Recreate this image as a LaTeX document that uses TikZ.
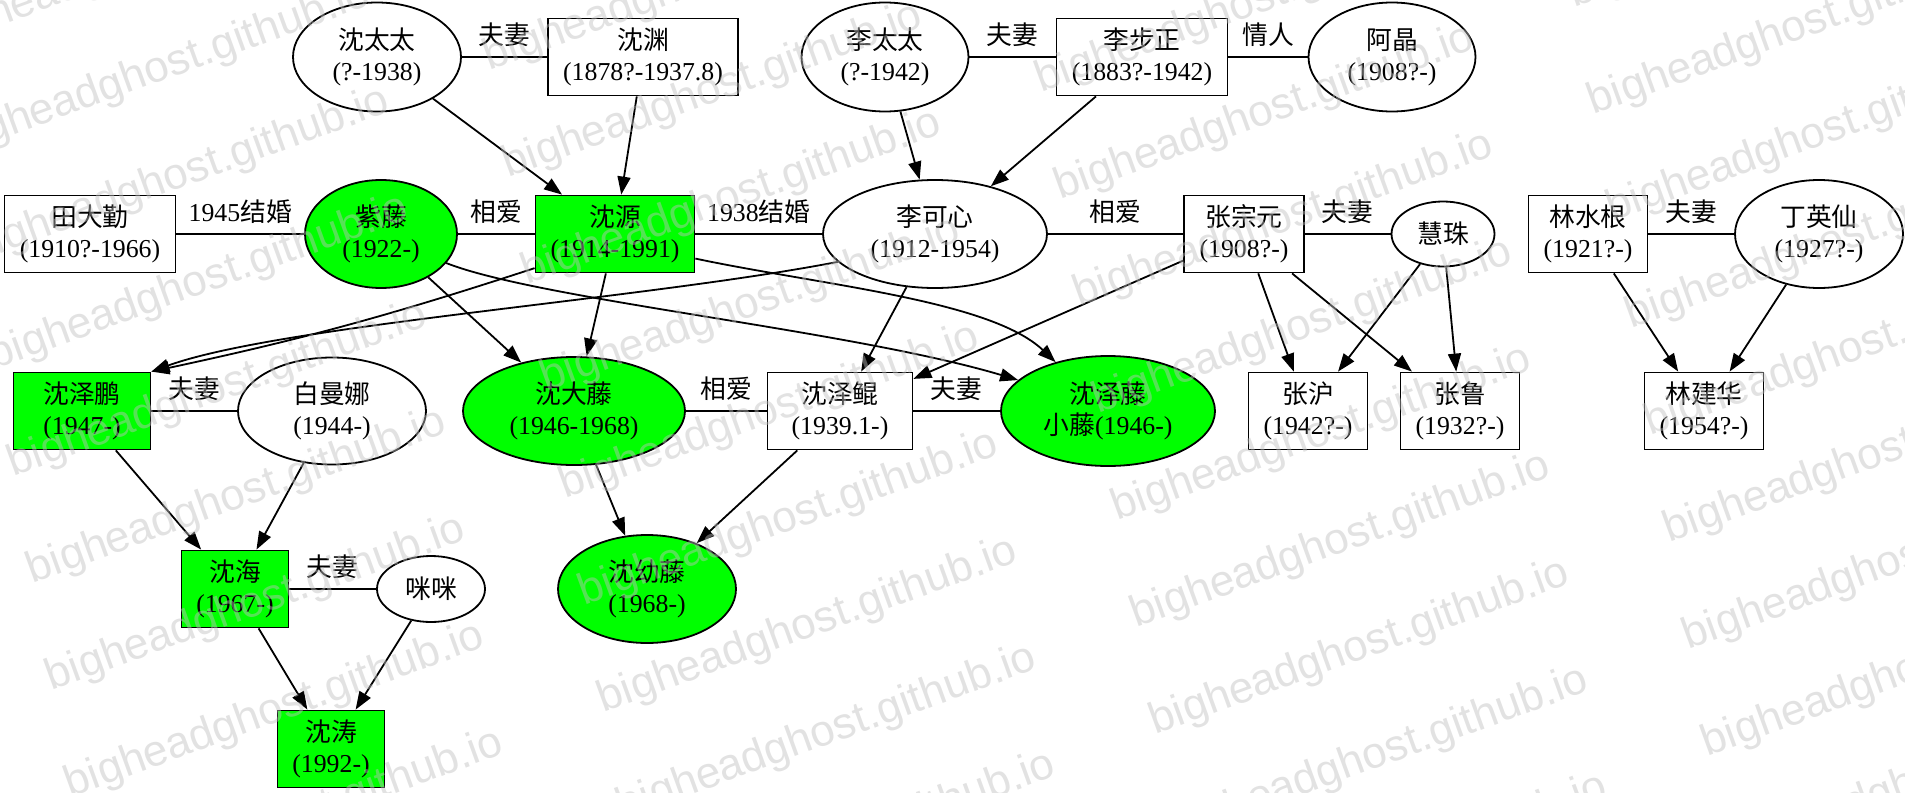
\documentclass[tikz,border=0pt]{standalone}
\usepackage{fontspec}
\setmainfont{Liberation Serif}
\newfontfamily\cjk{Noto Sans CJK SC}
\newfontfamily\wmfont{Liberation Sans}
\usetikzlibrary{arrows.meta, shapes.geometric}
\definecolor{bloodgreen}{RGB}{0,255,0}

\begin{document}
\begin{tikzpicture}[x=0.5pt, y=-0.5pt, line width=0.9pt,
    every node/.style={font=\fontsize{12.9pt}{15.5pt}\selectfont, align=center, inner sep=1pt},
    man/.style={draw, rectangle, minimum height=38.5pt},
    woman/.style={draw, ellipse, minimum height=54pt},
    blood/.style={fill=bloodgreen},
    rel/.style={midway, yshift=11pt},
    kid/.style={-{Triangle[length=9pt, width=6.5pt]}},
    wm/.style={anchor=base west, rotate=20, inner sep=0pt, text=black!25, text opacity=0.45,
      font=\wmfont\fontsize{22pt}{22pt}\selectfont}]
    \useasboundingbox (0,0) rectangle (1905,792);
    % parents
    \node[woman, minimum width=84pt, minimum height=54.5pt] (szt) at (377,57) {{\cjk 沈太太}\\(?-1938)};
    \node[man, minimum width=95pt] (syuan) at (643,57) {{\cjk 沈渊}\\(1878?-1937.8)};
    \node[woman, minimum width=83.5pt, minimum height=54.5pt] (ltt) at (885,57) {{\cjk 李太太}\\(?-1942)};
    \node[man, minimum width=85.5pt] (lbz) at (1142,57) {{\cjk 李步正}\\(1883?-1942)};
    \node[woman, minimum width=83.5pt, minimum height=54.5pt] (aj) at (1392,57) {{\cjk 阿晶}\\(1908?-)};
    % second row
    \node[man, minimum width=85.5pt] (tdq) at (90,234) {{\cjk 田大勤}\\(1910?-1966)};
    \node[woman, blood, minimum width=76pt] (zt) at (381,234) {{\cjk 紫藤}\\(1922-)};
    \node[man, blood, minimum width=79.5pt] (sy) at (615,234) {{\cjk 沈源}\\(1914-1991)};
    \node[woman, minimum width=112pt] (lkx) at (935,234) {{\cjk 李可心}\\(1912-1954)};
    \node[man, minimum width=60pt] (zzy) at (1244,234) {{\cjk 张宗元}\\(1908?-)};
    \node[woman, minimum width=51.5pt, minimum height=32.5pt] (hz) at (1443,234) {{\cjk 慧珠}};
    \node[man, minimum width=59.5pt] (lsg) at (1588,234) {{\cjk 林水根}\\(1921?-)};
    \node[woman, minimum width=84pt] (dyx) at (1819,234) {{\cjk 丁英仙}\\(1927?-)};
    % third row
    \node[man, blood, minimum width=68.5pt] (szp) at (82,411) {{\cjk 沈泽鹏}\\(1947-)};
    \node[woman, minimum width=94pt, minimum height=53.5pt] (bmn) at (332,411) {{\cjk 白曼娜}\\(1944-)};
    \node[woman, blood, minimum width=111pt] (sdt) at (574,411) {{\cjk 沈大藤}\\(1946-1968)};
    \node[man, minimum width=72.5pt] (szk) at (840,411) {{\cjk 沈泽鲲}\\(1939.1-)};
    \node[woman, blood, minimum width=107pt, minimum height=55pt] (sztt) at (1108,411) {{\cjk 沈泽藤}\\{\cjk 小藤}(1946-)};
    \node[man, minimum width=59.5pt] (zh) at (1308,411) {{\cjk 张沪}\\(1942?-)};
    \node[man, minimum width=59.5pt] (zl) at (1460,411) {{\cjk 张鲁}\\(1932?-)};
    \node[man, minimum width=59.5pt] (ljh) at (1704,411) {{\cjk 林建华}\\(1954?-)};
    % fourth and fifth rows
    \node[man, blood, minimum width=53.5pt] (sh) at (235,589) {{\cjk 沈海}\\(1967-)};
    \node[woman, minimum width=54pt, minimum height=33pt] (mm) at (431,589) {{\cjk 咪咪}};
    \node[woman, blood, minimum width=89pt] (syt) at (647,589) {{\cjk 沈幼藤}\\(1968-)};
    \node[man, blood, minimum width=53.5pt] (st) at (331,749) {{\cjk 沈涛}\\(1992-)};

    % couples
    \draw (szt) -- (syuan) node[rel] {{\cjk 夫妻}};
    \draw (ltt) -- (lbz) node[rel] {{\cjk 夫妻}};
    \draw (lbz) -- (aj) node[rel] {{\cjk 情人}};
    \draw (tdq) -- (zt) node[rel] {1945{\cjk 结婚}};
    \draw (zt) -- (sy) node[rel] {{\cjk 相爱}};
    \draw (sy) -- (lkx) node[rel] {1938{\cjk 结婚}};
    \draw (lkx) -- (zzy) node[rel] {{\cjk 相爱}};
    \draw (zzy) -- (hz) node[rel] {{\cjk 夫妻}};
    \draw (lsg) -- (dyx) node[rel] {{\cjk 夫妻}};
    \draw (szp) -- (bmn) node[rel] {{\cjk 夫妻}};
    \draw (sdt) -- (szk) node[rel] {{\cjk 相爱}};
    \draw (szk) -- (sztt) node[rel] {{\cjk 夫妻}};
    \draw (sh) -- (mm) node[rel] {{\cjk 夫妻}};

    % children
    \draw[kid] (szt) -- (sy);
    \draw[kid] (syuan) -- (sy);
    \draw[kid] (ltt) -- (lkx);
    \draw[kid] (lbz) -- (lkx);
    \draw[kid] (zt) -- (sdt);
    \draw[kid] (sy) -- (sdt);
    \draw[kid] (lkx) -- (szk);
    \draw[kid] (zzy) -- (szk);
    \draw[kid] (zzy) -- (zh);
    \draw[kid] (zzy) -- (zl);
    \draw[kid] (hz) -- (zh);
    \draw[kid] (hz) -- (zl);
    \draw[kid] (lsg) -- (ljh);
    \draw[kid] (dyx) -- (ljh);
    \draw[kid] (szp) -- (sh);
    \draw[kid] (bmn) -- (sh);
    \draw[kid] (sh) -- (st);
    \draw[kid] (mm) -- (st);
    \draw[kid] (sdt) -- (syt);
    \draw[kid] (szk) -- (syt);
    \draw[kid] (sy.203) to[bend left=3] (szp.north east);
    \draw[kid] (lkx.196) .. controls (640,300) and (280,325) .. (szp.north east);
    \draw[kid] (sy.343) .. controls (820,285) and (990,300) .. (sztt.137);
    \draw[kid] (zt.336) .. controls (540,300) and (850,330) .. (sztt.161);

    % watermark
    \begin{scope}
        \clip (0,0) rectangle (1905,792);
        \foreach \c in {-1,...,3}
            \foreach \r in {-5,...,4}
                \node[wm] at ({13+552*\c+19*\r}, {477+22*\c+107*\r}) {bigheadghost.github.io};
    \end{scope}
\end{tikzpicture}
\end{document}
